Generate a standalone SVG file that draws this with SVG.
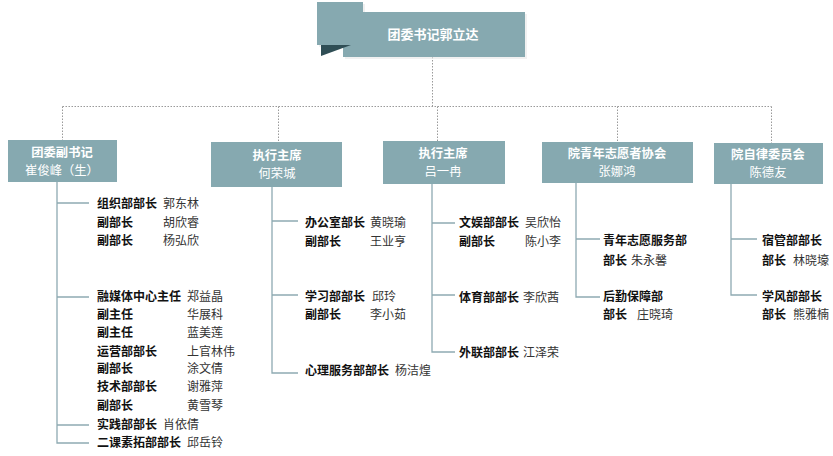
<svg xmlns="http://www.w3.org/2000/svg" width="833" height="456" viewBox="0 0 833 456">
<style>
.box{fill:#86a9b0}
.bt{font-family:"Noto Sans CJK SC","Noto Sans",sans-serif;font-size:12.3px;fill:#fff;text-anchor:middle}
.bt .b{font-weight:bold}
.dot{stroke:#9a9a9a;stroke-width:1;stroke-dasharray:1.5 1.5;fill:none}
.tree{stroke:#8eaab2;stroke-width:1.3;fill:none}
.lb{font-family:"Noto Sans CJK SC","Noto Sans",sans-serif;font-size:12px;font-weight:bold;fill:#111}
.nm{font-family:"Noto Sans CJK SC","Noto Sans",sans-serif;font-size:12px;fill:#333}
</style>
<rect width="833" height="456" fill="#fff"/>
<g id="connectors">
<path class="dot" d="M432.5 57V106.5M62.5 106.5H771.5M62.5 106.5V140M278.5 106.5V142M437.5 106.5V141M617.5 106.5V142M771.5 106.5V143"/>
<path class="tree" d="M57 182V443H89M57 203H89M57 297H89M57 425H89"/>
<path class="tree" d="M272 187V373H298M272 221H298M272 295H298"/>
<path class="tree" d="M432 184V352H455M432 223H455M432 295H455"/>
<path class="tree" d="M576 183V297H600M576 239H600"/>
<path class="tree" d="M731 184V295H757M731 239H757"/>
</g>
<g id="root">
<rect x="319" y="4" width="46" height="43" fill="#e6e6e6" opacity="0.6"/>
<rect x="345" y="14" width="182" height="45" fill="#e8e8e8" opacity="0.6"/>
<rect x="317" y="2" width="46" height="43" class="box"/>
<rect x="343" y="12" width="182" height="45" class="box"/>
<polygon points="321,45 351,45 321,56" fill="#2f4e55"/>
<text x="433" y="39" font-family="'Noto Sans CJK SC',sans-serif" font-size="13" font-weight="bold" fill="#fff" text-anchor="middle">团委书记郭立达</text>
</g>
<g id="n1">
<rect x="8" y="140" width="109" height="42" class="box"/>
<text class="bt"><tspan class="b" x="62" y="156.5">团委副书记</tspan><tspan x="62" y="174.5">崔俊峰（生）</tspan></text>
</g>
<g id="n2">
<rect x="211" y="142" width="131" height="45" class="box"/>
<text class="bt"><tspan class="b" x="277" y="159.5">执行主席</tspan><tspan x="277" y="177.5">何荣城</tspan></text>
</g>
<g id="n3">
<rect x="383" y="141" width="122" height="43" class="box"/>
<text class="bt"><tspan class="b" x="443" y="157.5">执行主席</tspan><tspan x="443" y="175.5">吕一冉</tspan></text>
</g>
<g id="n4">
<rect x="542" y="142" width="151" height="41" class="box"/>
<text class="bt"><tspan class="b" x="617" y="158">院青年志愿者协会</tspan><tspan x="617" y="176">张娜鸿</tspan></text>
</g>
<g id="n5">
<rect x="714" y="143" width="109" height="41" class="box"/>
<text class="bt"><tspan class="b" x="768" y="158.5">院自律委员会</tspan><tspan x="768" y="176.5">陈德友</tspan></text>
</g>
<g id="c1">
<text class="lb" x="97" y="208">组织部部长</text><text class="nm" x="163" y="208">郭东林</text>
<text class="lb" x="97" y="227">副部长</text><text class="nm" x="163" y="227">胡欣睿</text>
<text class="lb" x="97" y="245">副部长</text><text class="nm" x="163" y="245">杨弘欣</text>
<text class="lb" x="97" y="301">融媒体中心主任</text><text class="nm" x="187" y="301">郑益晶</text>
<text class="lb" x="97" y="319">副主任</text><text class="nm" x="187" y="319">华展科</text>
<text class="lb" x="97" y="337">副主任</text><text class="nm" x="187" y="337">蓝美莲</text>
<text class="lb" x="97" y="356">运营部部长</text><text class="nm" x="187" y="356">上官林伟</text>
<text class="lb" x="97" y="373">副部长</text><text class="nm" x="187" y="373">涂文倩</text>
<text class="lb" x="97" y="391">技术部部长</text><text class="nm" x="187" y="391">谢雅萍</text>
<text class="lb" x="97" y="410">副部长</text><text class="nm" x="187" y="410">黄雪琴</text>
<text class="lb" x="97" y="429">实践部部长</text><text class="nm" x="163" y="429">肖依倩</text>
<text class="lb" x="97" y="447">二课素拓部部长</text><text class="nm" x="187" y="447">邱岳铃</text>
</g>
<g id="c2">
<text class="lb" x="305" y="227">办公室部长</text><text class="nm" x="370" y="227">黄晓瑜</text>
<text class="lb" x="305" y="246">副部长</text><text class="nm" x="370" y="246">王业亨</text>
<text class="lb" x="305" y="301">学习部部长</text><text class="nm" x="372" y="301">邱玲</text>
<text class="lb" x="305" y="319">副部长</text><text class="nm" x="370" y="319">李小茹</text>
<text class="lb" x="305" y="375">心理服务部部长</text><text class="nm" x="395" y="375">杨洁煌</text>
</g>
<g id="c3">
<text class="lb" x="459" y="227">文娱部部长</text><text class="nm" x="525" y="227">吴欣怡</text>
<text class="lb" x="459" y="246">副部长</text><text class="nm" x="525" y="246">陈小李</text>
<text class="lb" x="459" y="302">体育部部长</text><text class="nm" x="523" y="302">李欣茜</text>
<text class="lb" x="459" y="357">外联部部长</text><text class="nm" x="523" y="357">江泽荣</text>
</g>
<g id="c4">
<text class="lb" x="603" y="245">青年志愿服务部</text>
<text class="lb" x="603" y="265">部长</text><text class="nm" x="631" y="265">朱永馨</text>
<text class="lb" x="603" y="301">后勤保障部</text>
<text class="lb" x="603" y="319">部长</text><text class="nm" x="637" y="319">庄晓琦</text>
</g>
<g id="c5">
<text class="lb" x="762" y="245">宿管部部长</text>
<text class="lb" x="762" y="265">部长</text><text class="nm" x="793" y="265">林晓壕</text>
<text class="lb" x="762" y="301">学风部部长</text>
<text class="lb" x="762" y="319">部长</text><text class="nm" x="793" y="319">熊雅楠</text>
</g>
</svg>
